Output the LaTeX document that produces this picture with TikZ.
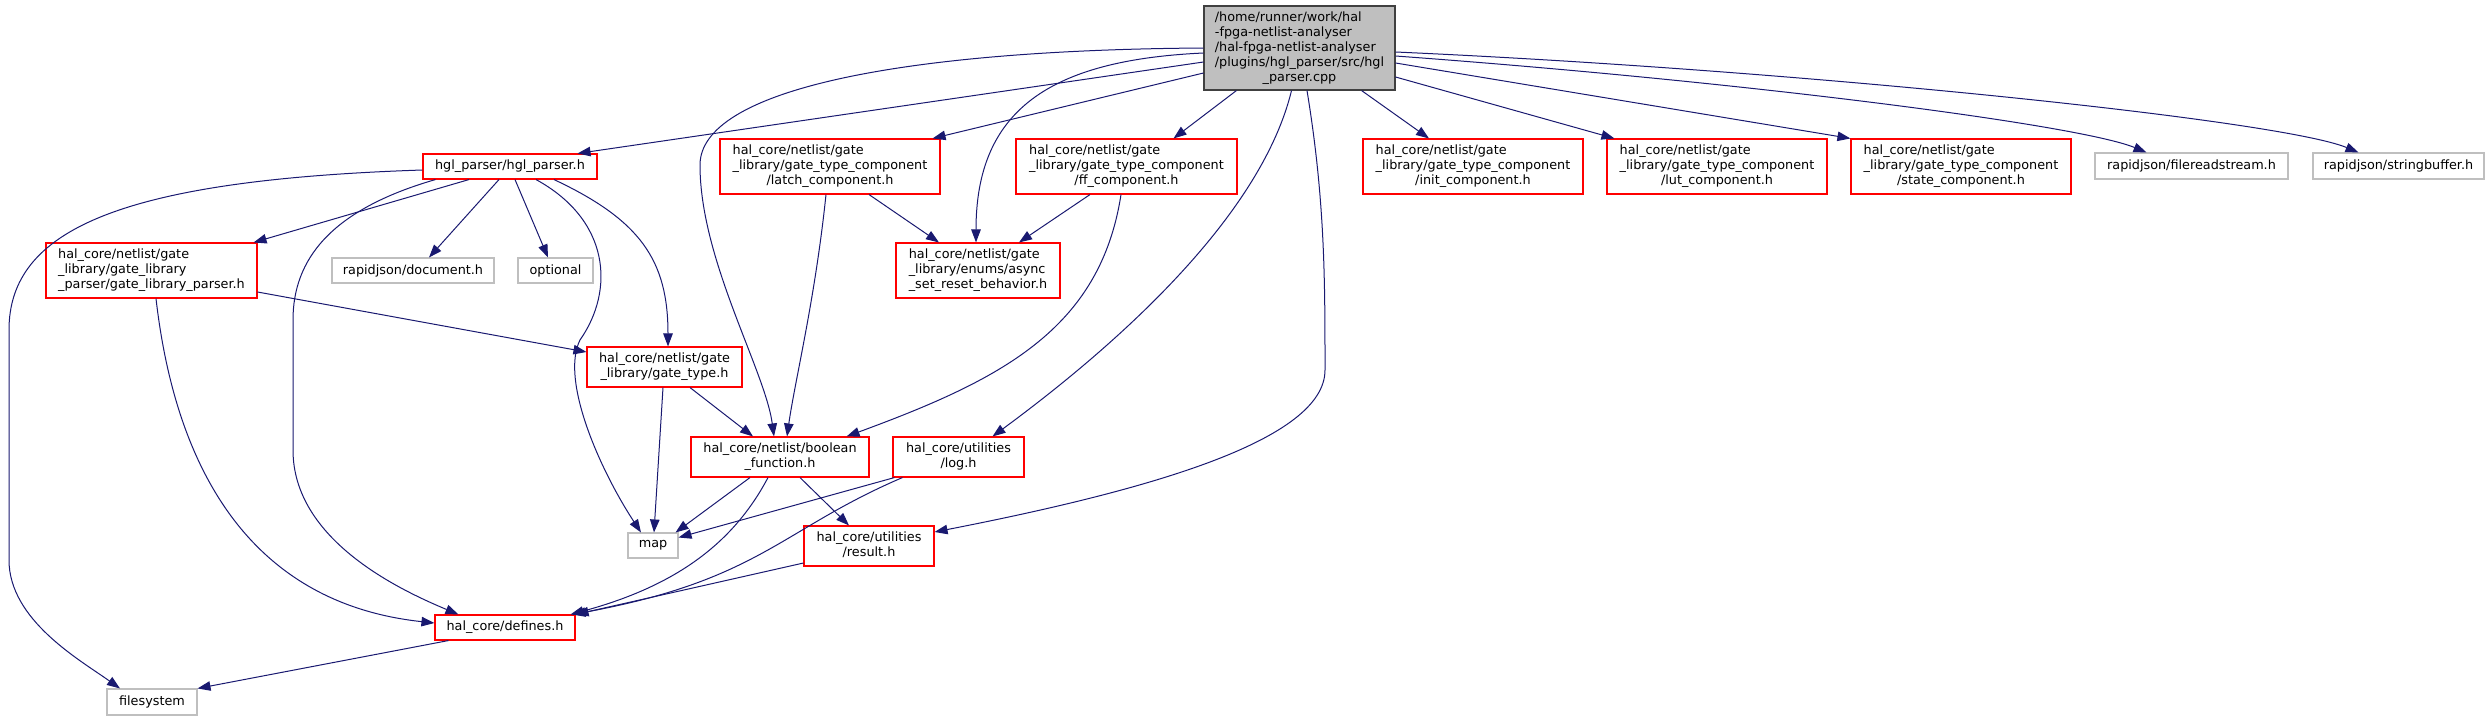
\documentclass[tikz,border=0pt]{standalone}
\usepackage{fontspec}
\setmainfont{DejaVu Sans}
\usetikzlibrary{arrows.meta}
\definecolor{edgeblue}{RGB}{25,25,112}
\definecolor{boxgray}{RGB}{191,191,191}
\newcommand{\doxy}[2]{\begin{tabular}{@{}l@{}}#1\\\multicolumn{1}{@{}c@{}}{#2}\end{tabular}}

\begin{document}
\begin{tikzpicture}[x=1pt, y=-1pt, font=\fontsize{12.8}{15}\selectfont]
\tikzstyle{trunc} = [rectangle, draw=red, line width=1.1pt, fill=white, inner sep=0pt]
\tikzstyle{ext} = [rectangle, draw=boxgray, line width=1.1pt, fill=white, inner sep=0pt]
\tikzstyle{arrow} = [-{Triangle[length=13pt,width=9.5pt]}, color=edgeblue, line width=1pt]
\useasboundingbox (0,0) rectangle (2490,721);

\node (main) [rectangle, draw=black!75, line width=1.1pt, fill=boxgray, inner sep=0pt, minimum width=191pt, minimum height=84pt] at (1299.5,48) {\doxy{/home/runner/work/hal\\-fpga-netlist-analyser\\/hal-fpga-netlist-analyser\\/plugins/hgl\_parser/src/hgl}{\_parser.cpp}};
\node (hglp) [trunc, minimum width=174pt, minimum height=25pt] at (510,166.5) {hgl\_parser/hgl\_parser.h};
\node (latch) [trunc, minimum width=220pt, minimum height=55pt] at (830,166.5) {\doxy{hal\_core/netlist/gate\\\_library/gate\_type\_component}{/latch\_component.h}};
\node (ff) [trunc, minimum width=221pt, minimum height=55pt] at (1126.5,166.5) {\doxy{hal\_core/netlist/gate\\\_library/gate\_type\_component}{/ff\_component.h}};
\node (init) [trunc, minimum width=220pt, minimum height=55pt] at (1473,166.5) {\doxy{hal\_core/netlist/gate\\\_library/gate\_type\_component}{/init\_component.h}};
\node (lut) [trunc, minimum width=220pt, minimum height=55pt] at (1717,166.5) {\doxy{hal\_core/netlist/gate\\\_library/gate\_type\_component}{/lut\_component.h}};
\node (state) [trunc, minimum width=220pt, minimum height=55pt] at (1961,166.5) {\doxy{hal\_core/netlist/gate\\\_library/gate\_type\_component}{/state\_component.h}};
\node (frs) [ext, minimum width=193pt, minimum height=26pt] at (2191.5,166) {rapidjson/filereadstream.h};
\node (sbuf) [ext, minimum width=171pt, minimum height=26pt] at (2398.5,166) {rapidjson/stringbuffer.h};
\node (glp) [trunc, minimum width=211pt, minimum height=55pt] at (151.5,270.5) {\doxy{hal\_core/netlist/gate\\\_library/gate\_library}{\_parser/gate\_library\_parser.h}};
\node (rdoc) [ext, minimum width=162pt, minimum height=25pt] at (413,270.5) {rapidjson/document.h};
\node (opt) [ext, minimum width=75pt, minimum height=25pt] at (555.5,270.5) {optional};
\node (async) [trunc, minimum width=164pt, minimum height=55pt] at (978,270.5) {\doxy{hal\_core/netlist/gate\\\_library/enums/async}{\_set\_reset\_behavior.h}};
\node (gtype) [trunc, minimum width=155pt, minimum height=40pt] at (664.5,367) {\doxy{hal\_core/netlist/gate}{\_library/gate\_type.h}};
\node (boolf) [trunc, minimum width=178pt, minimum height=40pt] at (780,457) {\doxy{hal\_core/netlist/boolean}{\_function.h}};
\node (logh) [trunc, minimum width=131pt, minimum height=40pt] at (958.5,457) {\doxy{hal\_core/utilities}{/log.h}};
\node (map) [ext, minimum width=50pt, minimum height=25pt] at (653,545.5) {map};
\node (result) [trunc, minimum width=130pt, minimum height=40pt] at (869,546) {\doxy{hal\_core/utilities}{/result.h}};
\node (defines) [trunc, minimum width=140pt, minimum height=25pt] at (505,627.5) {hal\_core/defines.h};
\node (fsys) [ext, minimum width=90pt, minimum height=26pt] at (152,702) {filesystem};

\draw[arrow] ([yshift=-14pt]main.west) -- ([xshift=-20pt]hglp.north east);
\draw[arrow] ([yshift=-25pt]main.west) -- ([xshift=-8pt]latch.north east);
\draw[arrow] ([xshift=33pt]main.south west) -- ([xshift=47pt]ff.north);
\draw[arrow] ([xshift=-34pt]main.south east) -- ([xshift=-44pt]init.north);
\draw[arrow] ([yshift=-29pt]main.east) -- ([xshift=8pt]lut.north west);
\draw[arrow] ([yshift=-15pt]main.east) -- (state.north west);
\draw[arrow] ([yshift=-8pt]main.east) .. controls (1750,82) and (2080,125) .. ([xshift=-45pt]frs.north);
\draw[arrow] ([yshift=-4pt]main.east) .. controls (1800,70) and (2280,120) .. ([xshift=-40pt]sbuf.north);
\draw[arrow] ([yshift=-5pt]main.west) .. controls (1050,60) and (976,110) .. ([xshift=-2pt]async.north);
\draw[arrow] (main.west) .. controls (900,50) and (700,90) .. (700,165) .. controls (700,260) and (765,370) .. ([xshift=-6pt]boolf.north);
\draw[arrow] ([xshift=-8pt]main.south) .. controls (1260,220) and (1110,350) .. ([xshift=34pt]logh.north);
\draw[arrow] ([xshift=7.5pt]main.south) .. controls (1325,200) and (1325,280) .. (1325,370) .. controls (1325,440) and (1150,490) .. ([yshift=14pt]result.east);

\draw[arrow] ([yshift=-3.5pt]hglp.west) .. controls (120,180) and (9,230) .. (9,330) -- (9,560) .. controls (9,620) and (80,660) .. ([xshift=-32pt]fsys.north);
\draw[arrow] ([xshift=-41pt]hglp.south) -- ([xshift=-4pt]glp.north east);
\draw[arrow] ([xshift=13pt]hglp.south west) .. controls (330,210) and (293,260) .. (293,320) -- (293,450) .. controls (293,540) and (400,590) .. ([xshift=24pt]defines.north west);
\draw[arrow] ([xshift=-11pt]hglp.south) -- ([xshift=16pt]rdoc.north);
\draw[arrow] ([xshift=5pt]hglp.south) -- ([xshift=-7.5pt]opt.north);
\draw[arrow] ([xshift=26pt]hglp.south) .. controls (610,220) and (615,290) .. (580,340) .. controls (560,380) and (600,470) .. ([xshift=-12pt]map.north);
\draw[arrow] ([xshift=44pt]hglp.south) .. controls (640,220) and (668,260) .. ([xshift=3.5pt]gtype.north);

\draw[arrow] ([yshift=-21.5pt]glp.east) -- ([yshift=15pt]gtype.west);
\draw[arrow] ([xshift=4.5pt]glp.south) .. controls (170,420) and (220,600) .. ([yshift=4.5pt]defines.west);
\draw[arrow] ([xshift=39pt]latch.south) -- ([xshift=-39pt]async.north);
\draw[arrow] ([xshift=-4pt]latch.south) .. controls (815,300) and (795,380) .. ([xshift=7pt]boolf.north);
\draw[arrow] ([xshift=-36.5pt]ff.south) -- ([xshift=41pt]async.north);
\draw[arrow] ([xshift=-5.5pt]ff.south) .. controls (1100,330) and (1000,380) .. ([xshift=-23pt]boolf.north east);
\draw[arrow] ([xshift=-1.5pt]gtype.south) -- ([xshift=1pt]map.north);
\draw[arrow] ([xshift=25.5pt]gtype.south) -- ([xshift=-27pt]boolf.north);
\draw[arrow] ([xshift=-30pt]boolf.south) -- ([xshift=-3pt]map.north east);
\draw[arrow] ([xshift=-12pt]boolf.south) .. controls (735,540) and (680,585) .. ([xshift=-5pt]defines.north east);
\draw[arrow] ([xshift=20pt]boolf.south) -- ([xshift=-20pt]result.north);
\draw[arrow] ([xshift=2pt]logh.south west) -- ([yshift=8pt]map.east);
\draw[arrow] ([xshift=10pt]logh.south west) .. controls (780,530) and (760,580) .. ([xshift=-3pt]defines.north east);
\draw[arrow] ([yshift=-17pt]result.west) -- (defines.north east);
\draw[arrow] ([xshift=14pt]defines.south west) -- (fsys.north east);
\end{tikzpicture}
\end{document}
